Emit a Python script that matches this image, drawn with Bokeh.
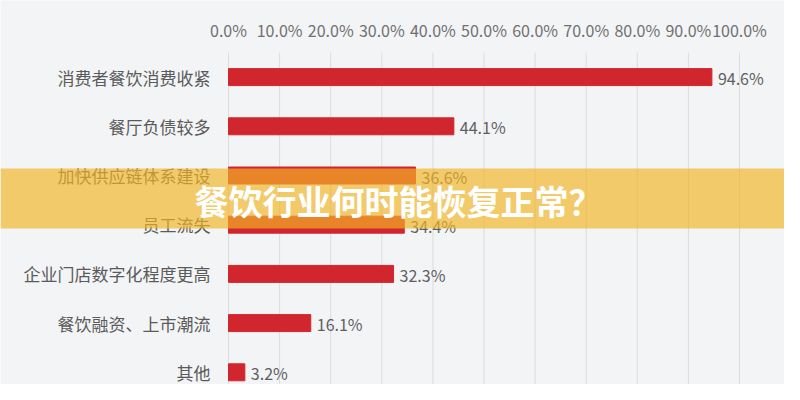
from bokeh.plotting import figure
from bokeh.models import Range1d, BoxAnnotation, Label, ColumnDataSource
from bokeh.core.properties import value
from bokeh.embed import file_html
from bokeh.resources import INLINE

categories = ["消费者餐饮消费收紧", "餐厅负债较多", "加快供应链体系建设", "员工流失",
              "企业门店数字化程度更高", "餐饮融资、上市潮流", "其他"]
values = [94.6, 44.1, 36.6, 34.4, 32.3, 16.1, 3.2]
x_ticks = [0, 10, 20, 30, 40, 50, 60, 70, 80, 90, 100]
title_text = "餐饮行业何时能恢复正常？"

FONT = "Noto Sans CJK SC"
BG = "#f3f4f6"
W, H = 784, 384
# pixel layout of the plotting area inside the canvas
PX_LEFT, PX_RIGHT, PX_TOP = 228, 739, 52
ROW = 49.2

sx = (PX_RIGHT - PX_LEFT) / 100.0
x0 = -PX_LEFT / sx
x1 = 100 + (W - PX_RIGHT) / sx
y_top = -0.5 - PX_TOP / ROW
y_bot = y_top + H / ROW


def py(pix):
    return y_top + pix / ROW


def px(pix):
    return x0 + pix / sx


idx = list(range(len(categories)))
src = ColumnDataSource(dict(y=idx, v=values, lab=[f"{v:.1f}%" for v in values],
                            cat=categories, zero=[0] * len(idx)))
tick_src = ColumnDataSource(dict(x=x_ticks, lab=[f"{t:.1f}%" for t in x_ticks],
                                 y0=[-0.5] * len(x_ticks), y1=[y_bot] * len(x_ticks),
                                 yl=[py(29.5)] * len(x_ticks)))

p = figure(width=W, height=H, output_backend="svg", toolbar_location=None,
           x_range=Range1d(x0, x1), y_range=Range1d(y_bot, y_top),
           min_border=0, x_axis_type=None, y_axis_type=None)
p.background_fill_color = BG
p.border_fill_color = BG
p.outline_line_color = None

# vertical grid lines
p.segment(x0="x", x1="x", y0="y0", y1="y1", source=tick_src,
          line_color="#dcdcdc", line_width=1)
# top tick labels
p.text(x="x", y="yl", text="lab", source=tick_src, text_align="center",
       text_baseline="middle", text_font=value(FONT), text_font_size="16px",
       text_color="#707070")

p.hbar(y="y", left=0, right="v", height=0.345, source=src, color="#d2262e")
p.text(x="v", y="y", text="lab", source=src, x_offset=6, y_offset=1,
       text_baseline="middle", text_align="left", text_font=value(FONT),
       text_font_size="16px", text_color="#5f5f5f")
# category labels
p.text(x="zero", y="y", text="cat", source=src, x_offset=-18,
       text_baseline="middle", text_align="right", text_font=value(FONT),
       text_font_size="17px", text_color="#5a5a5a")

banner = BoxAnnotation(left=x0, right=x1, top=py(168), bottom=py(228),
                       fill_color="#f1b525", fill_alpha=0.67, line_color=None,
                       level="overlay")
p.add_layout(banner)

title = Label(x=px(398), y=py(200), text=title_text,
              text_align="center", text_baseline="middle", text_font=FONT,
              text_font_size="34px", text_font_style="bold", text_color="white",
              level="overlay")
p.add_layout(title)

open("out.html", "w").write(file_html(p, INLINE))
